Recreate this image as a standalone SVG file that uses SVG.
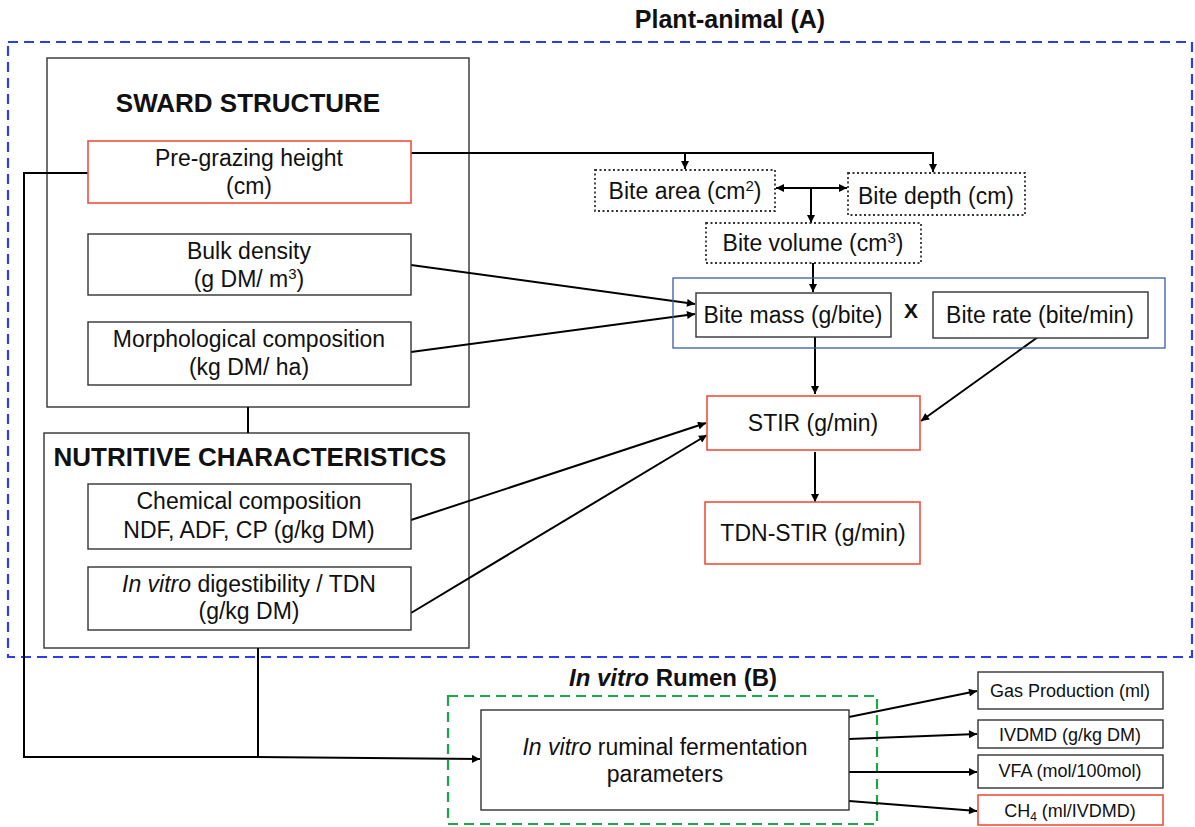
<svg xmlns="http://www.w3.org/2000/svg" width="1195" height="827" viewBox="0 0 1195 827">
<defs>
<marker id="ah" viewBox="0 0 10 10" refX="10" refY="5" markerWidth="9" markerHeight="8" markerUnits="userSpaceOnUse" orient="auto-start-reverse">
<path d="M0,0 L10,5 L0,10 z" fill="#000"/>
</marker>
</defs>
<style>
text{font-family:"Liberation Sans",Arial,sans-serif;fill:#111;}
.t{font-size:23px;text-anchor:middle;}
.s{font-size:18px;text-anchor:middle;}
.h{font-size:26px;font-weight:bold;text-anchor:middle;}
.box{fill:#fff;stroke:#333;stroke-width:1.4;}
.red{fill:#fff;stroke:#f0503c;stroke-width:1.6;}
.dot{fill:#fff;stroke:#333;stroke-width:1.8;stroke-dasharray:2,2.5;}
.c{fill:none;stroke:#000;stroke-width:2;}
.ca{fill:none;stroke:#000;stroke-width:2;marker-end:url(#ah);}
</style>
<rect width="1195" height="827" fill="#fff"/>

<g id="groupA">
<rect x="8" y="42" width="1184" height="615" fill="none" stroke="#2a3ef0" stroke-width="2.2" stroke-dasharray="10,6"/>
<text x="730" y="28" style="font-size:25px;font-weight:bold;text-anchor:middle">Plant-animal (A)</text>
</g>
<g id="groupB">
<rect x="448" y="696" width="429" height="128" fill="none" stroke="#1aaa44" stroke-width="2.2" stroke-dasharray="10,6"/>
<text x="673" y="686" style="font-size:24px;font-weight:bold;text-anchor:middle"><tspan font-style="italic">In vitro</tspan> Rumen (B)</text>
</g>

<g id="sward">
<rect class="box" x="47" y="58" width="422" height="349"/>
<text class="h" x="248" y="112">SWARD STRUCTURE</text>
</g>
<g id="nutritive">
<rect class="box" x="44" y="433" width="425" height="215"/>
<text class="h" x="250" y="466">NUTRITIVE CHARACTERISTICS</text>
</g>

<g id="connectors">
<line class="c" x1="248" y1="407" x2="248" y2="433"/>
<polyline class="c" points="88,173 24,173 24,757 258,757"/>
<line class="c" x1="258" y1="648" x2="258" y2="757"/>
<line class="ca" x1="257" y1="757" x2="480" y2="759"/>
<polyline class="c" points="411,153 933,153 933,171"/>
<line class="ca" x1="685" y1="153" x2="685" y2="169"/>
<line class="ca" x1="933" y1="160" x2="933" y2="172"/>
<line class="ca" x1="776" y1="188" x2="847" y2="188" style="marker-start:url(#ah)"/>
<line class="ca" x1="811" y1="188" x2="811" y2="223"/>
<line class="ca" x1="813" y1="263" x2="813" y2="292"/>
<line class="ca" x1="411" y1="265" x2="695" y2="304"/>
<line class="ca" x1="411" y1="352" x2="695" y2="314"/>
<line class="ca" x1="815" y1="337" x2="815" y2="394"/>
<line class="ca" x1="1038" y1="337" x2="921" y2="421"/>
<line class="ca" x1="411" y1="520" x2="706" y2="423"/>
<line class="ca" x1="411" y1="613" x2="707" y2="435"/>
<line class="ca" x1="815" y1="452" x2="815" y2="502"/>
<line class="ca" x1="849" y1="717" x2="977" y2="691"/>
<line class="ca" x1="849" y1="739" x2="977" y2="734"/>
<line class="ca" x1="849" y1="772" x2="977" y2="772"/>
<line class="ca" x1="849" y1="801" x2="977" y2="811"/>
</g>

<g id="pregrazing">
<rect class="red" x="88" y="141" width="323" height="62"/>
<text class="t" x="249" y="166">Pre-grazing height</text>
<text class="t" x="249" y="194">(cm)</text>
</g>
<g id="bulk">
<rect class="box" x="88" y="234" width="323" height="61"/>
<text class="t" x="249" y="259">Bulk density</text>
<text class="t" x="249" y="287">(g DM/ m<tspan font-size="15" dy="-8">3</tspan><tspan dy="8">)</tspan></text>
</g>
<g id="morph">
<rect class="box" x="88" y="322" width="323" height="63"/>
<text class="t" x="249" y="347">Morphological composition</text>
<text class="t" x="249" y="375">(kg DM/ ha)</text>
</g>
<g id="chemical">
<rect class="box" x="88" y="484" width="323" height="65"/>
<text class="t" x="249" y="509">Chemical composition</text>
<text class="t" x="249" y="538">NDF, ADF, CP (g/kg DM)</text>
</g>
<g id="digest">
<rect class="box" x="88" y="567" width="323" height="63"/>
<text class="t" x="249" y="592"><tspan font-style="italic">In vitro</tspan> digestibility / TDN</text>
<text class="t" x="249" y="619">(g/kg DM)</text>
</g>

<g id="bitearea">
<rect class="dot" x="595" y="170" width="180" height="41"/>
<text class="t" x="685" y="199">Bite area (cm<tspan font-size="15" dy="-8">2</tspan><tspan dy="8">)</tspan></text>
</g>
<g id="bitedepth">
<rect class="dot" x="848" y="173" width="177" height="42"/>
<text class="t" x="936" y="204">Bite depth (cm)</text>
</g>
<g id="bitevolume">
<rect class="dot" x="706" y="223" width="215" height="40"/>
<text class="t" x="813" y="251">Bite volume (cm<tspan font-size="15" dy="-8">3</tspan><tspan dy="8">)</tspan></text>
</g>
<g id="biteframe">
<rect x="673" y="278" width="492" height="70" fill="none" stroke="#3a5aa8" stroke-width="1.3"/>
<text x="911" y="318" style="font-size:21px;font-weight:bold;text-anchor:middle">X</text>
</g>
<g id="bitemass">
<rect class="box" x="696" y="293" width="195" height="44"/>
<text class="t" x="793" y="323">Bite mass (g/bite)</text>
</g>
<g id="biterate">
<rect class="box" x="933" y="292" width="215" height="46"/>
<text class="t" x="1040" y="323">Bite rate (bite/min)</text>
</g>
<g id="stir">
<rect class="red" x="707" y="396" width="213" height="54"/>
<text class="t" x="813" y="431">STIR (g/min)</text>
</g>
<g id="tdnstir">
<rect class="red" x="705" y="502" width="215" height="62"/>
<text class="t" x="813" y="541">TDN-STIR (g/min)</text>
</g>

<g id="fermentation">
<rect class="box" x="481" y="710" width="368" height="100"/>
<text class="t" x="665" y="755"><tspan font-style="italic">In vitro</tspan> ruminal fermentation</text>
<text class="t" x="665" y="782">parameters</text>
</g>
<g id="gas">
<rect class="box" x="978" y="672" width="185" height="37"/>
<text class="s" x="1070" y="697">Gas Production (ml)</text>
</g>
<g id="ivdmd">
<rect class="box" x="978" y="720" width="185" height="28"/>
<text class="s" x="1070" y="741">IVDMD (g/kg DM)</text>
</g>
<g id="vfa">
<rect class="box" x="978" y="755" width="185" height="33"/>
<text class="s" x="1070" y="777">VFA (mol/100mol)</text>
</g>
<g id="ch4">
<rect class="red" x="978" y="795" width="185" height="30"/>
<text class="s" x="1070" y="817">CH<tspan font-size="12" dy="4">4</tspan><tspan dy="-4"> (ml/IVDMD)</tspan></text>
</g>
</svg>
